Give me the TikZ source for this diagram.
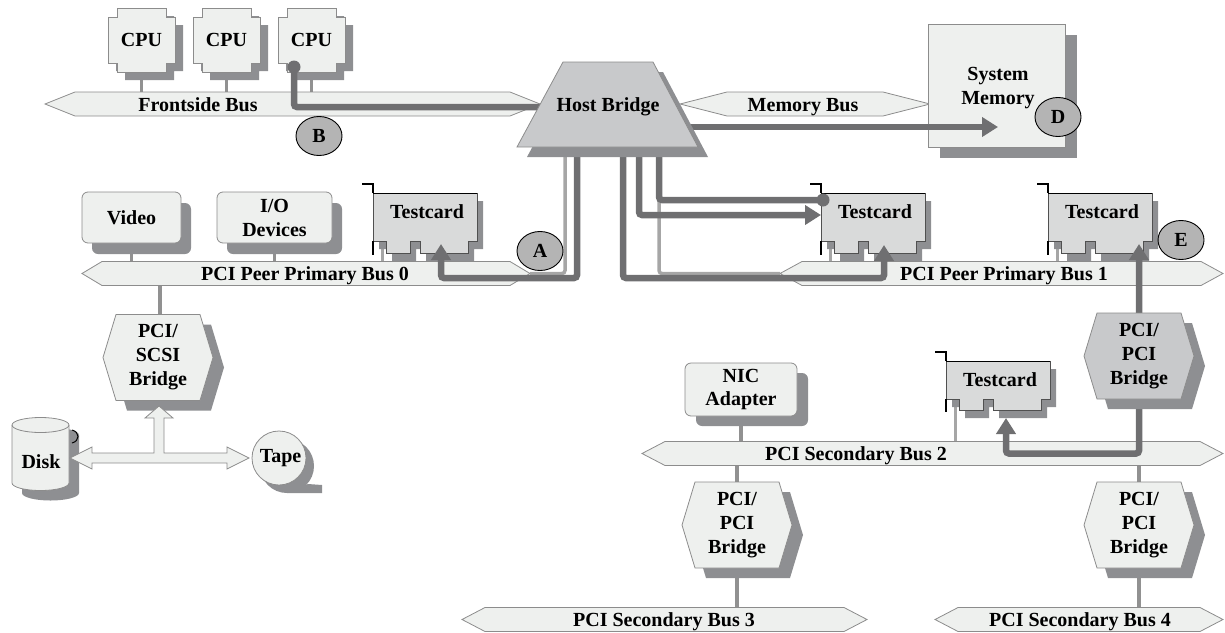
\documentclass[tikz,border=0pt]{standalone}
\usepackage{fontspec}
\setmainfont{Liberation Serif}
\usetikzlibrary{arrows.meta,shapes.geometric,calc}
\pgfdeclarelayer{bg}\pgfdeclarelayer{paths}\pgfdeclarelayer{top}
\pgfsetlayers{bg,main,paths,top}
\definecolor{busfill}{RGB}{238,240,238}
\definecolor{edge}{RGB}{140,140,140}
\definecolor{shd}{RGB}{142,143,146}
\definecolor{hostfill}{RGB}{200,201,203}
\definecolor{cardfill}{RGB}{217,218,218}
\definecolor{cardedge}{RGB}{80,80,80}
\definecolor{thickc}{RGB}{111,111,113}
\definecolor{lightc}{RGB}{166,166,166}
\definecolor{linkc}{RGB}{145,145,145}
\definecolor{labfill}{RGB}{180,180,180}
\tikzset{
 txt/.style={font=\fontsize{20}{24}\selectfont\bfseries, align=center, inner sep=0pt, text=black},
 busstyle/.style={fill=busfill, draw=edge, line width=0.8pt},
 link/.style={draw=linkc, line width=3.5pt},
 pin/.style={draw=lightc, line width=3pt},
 thinpath/.style={draw=lightc, line width=3.5pt, rounded corners=3pt},
 thickpath/.style={draw=thickc, line width=6.5pt, rounded corners=3pt},
 tip/.style={-{Triangle[length=16pt,width=19pt]}},
 tipboth/.style={{Triangle[length=16pt,width=19pt]}-{Triangle[length=16pt,width=19pt]}},
 lab/.style={ellipse, draw=black, line width=0.9pt, fill=labfill, minimum width=46pt, minimum height=39pt, inner sep=0pt, font=\fontsize{20}{24}\selectfont\bfseries},
}
\newcommand\cpushape[3]{\path[#1] (#2+9,#3) -- (#2+58,#3) -- (#2+58,#3+9) -- (#2+67,#3+9) -- (#2+67,#3+55) -- (#2+58,#3+55) -- (#2+58,#3+64) -- (#2+9,#3+64) -- (#2+9,#3+55) -- (#2,#3+55) -- (#2,#3+9) -- (#2+9,#3+9) -- cycle;}
\newcommand\mkcpu[3]{\cpushape{fill=shd}{#2+8}{#3+8}\cpushape{fill=busfill,draw=edge,line width=0.8pt}{#2}{#3}\node[txt] (#1) at (#2+33.5,#3+32) {CPU};}
\newcommand\cardshape[5]{\path[#1] (#2,#3) -- (#2+104,#3) -- (#2+104,#3+#4) -- (#2+95,#3+#4) -- (#2+95,#3+#5) -- (#2+47,#3+#5) -- (#2+47,#3+#4) -- (#2+37,#3+#4) -- (#2+37,#3+#5) -- (#2+13,#3+#5) -- (#2+13,#3+#4) -- (#2,#3+#4) -- cycle;}
\newcommand\mkcard[5]{%
 \cardshape{fill=shd}{#2+6}{#3+8}{#4}{#5}%
 \cardshape{fill=cardfill,draw=cardedge,line width=0.8pt}{#2}{#3}{#4}{#5}%
 \draw[black,line width=1pt] (#2,#3) -- (#2+104,#3);
 \draw[black,line width=2pt] (#2-11,#3-9) -- (#2,#3-9) -- (#2,#3);
 \draw[black,line width=2.5pt] (#2,#3+#4) -- (#2,#3+#5+2);
 \coordinate (#1pin) at (#2+9,#3+#4-4);
 \node[txt] (#1) at (#2+54,#3+18.5) {Testcard};}
\newcommand\mkbus[7]{\draw[busstyle] (#2,#4) -- (#2+#5,#4-12) -- (#3-#5,#4-12) -- (#3,#4) -- (#3-#5,#4+12) -- (#2+#5,#4+12) -- cycle;
 \node[txt,anchor=base] (#1) at (#6,#4+7) {#7};}
\newcommand\mkbridge[5]{%
 \path[fill=shd] (#2-44,#3+10) -- (#2-31,#3-33) -- (#2+53,#3-33) -- (#2+66,#3+10) -- (#2+53,#3+53) -- (#2-31,#3+53) -- cycle;
 \path[fill=#4,draw=edge,line width=0.8pt] (#2-55,#3) -- (#2-42,#3-43) -- (#2+42,#3-43) -- (#2+55,#3) -- (#2+42,#3+43) -- (#2-42,#3+43) -- cycle;
 \node[txt] (#1) at (#2,#3) {#5};}
\begin{document}
\begin{tikzpicture}[x=1pt,y=-1pt]
\useasboundingbox (0,0) rectangle (1225,632);
% buses
\mkbus{fsb}{45}{540}{104}{30}{198}{Frontside Bus}
\mkbus{membus}{680}{930}{104}{47}{803}{Memory Bus}
\mkbus{bus0}{82}{530}{273.5}{20}{305}{PCI Peer Primary Bus 0}
\mkbus{bus1}{780}{1223}{273.5}{22}{1004}{PCI Peer Primary Bus 1}
\mkbus{bus2}{642}{1223}{453.5}{23}{856}{PCI Secondary Bus 2}
\mkbus{bus3}{462}{867}{619.5}{23}{664}{PCI Secondary Bus 3}
\mkbus{bus4}{935}{1223}{619.5}{23}{1080}{PCI Secondary Bus 4}
\coordinate (b0r) at (530,273.5);
\coordinate (b1l) at (780,273.5);
% CPUs
\mkcpu{cpu1}{108}{8}
\mkcpu{cpu2}{193}{8}
\mkcpu{cpu3}{278}{8}
% memory
\fill[shd] (940,35) rectangle (1077,158);
\draw[busstyle] (928,24) rectangle (1065,147);
\node[txt] (mem) at (998,88) {System\\Memory};
% video, io, nic
\fill[shd,rounded corners=6pt] (92,203) rectangle (191,254);
\draw[busstyle,rounded corners=6pt] (82,192) rectangle (181,243);
\node[txt] (video) at (131.5,217.5) {Video};
\fill[shd,rounded corners=6pt] (227,203) rectangle (342,254);
\draw[busstyle,rounded corners=6pt] (217,192) rectangle (332,243);
\node[txt] (io) at (274.5,217.5) {I/O\\Devices};
\fill[shd,rounded corners=6pt] (696,373) rectangle (808,426);
\draw[busstyle,rounded corners=6pt] (685,363) rectangle (797,416);
\node[txt] (nic) at (741,389.5) {NIC\\Adapter};
% cards
\mkcard{card1}{373}{193}{48}{60}
\mkcard{card2}{821}{193}{48}{60}
\mkcard{card3}{1048}{193}{48}{60}
\mkcard{card4}{946}{361}{38}{49}
% bridges
\mkbridge{scsi}{158}{357.5}{busfill}{PCI/\\SCSI\\Bridge}
\mkbridge{br3}{737}{525}{busfill}{PCI/\\PCI\\Bridge}
\mkbridge{br4}{1139}{525}{busfill}{PCI/\\PCI\\Bridge}
% disk
\fill[shd] (22,435) -- (22,493) arc[start angle=180,end angle=0,x radius=28.5,y radius=7.5] -- (79,435) arc[start angle=0,end angle=-180,x radius=28.5,y radius=7.5] -- cycle;
\draw[black,line width=1pt] (72,430) .. controls (80,432) and (80,441) .. (72,443);
\draw[busstyle] (12,425) -- (12,483) arc[start angle=180,end angle=0,x radius=28.5,y radius=7.5] -- (69,425) arc[start angle=0,end angle=-180,x radius=28.5,y radius=7.5] -- cycle;
\draw[edge,line width=0.8pt] (12,425) arc[start angle=180,end angle=0,x radius=28.5,y radius=7.5];
\node[txt] (disk) at (41,462) {Disk};
% tape
\fill[shd] (287,466) circle (27);
\fill[shd] (287,493) -- (322,493) -- (322,485) -- (308,484) -- cycle;
\draw[busstyle] (279,458) circle (27);
\node[txt] (tape) at (280.5,458.5) {Tape};
% T arrow
\draw[busstyle] (70,458) -- (92,447) -- (92,453) -- (154,453) -- (154,418) -- (145,418) -- (159,406) -- (173,418) -- (164,418) -- (164,453) -- (227,453) -- (227,447) -- (249,458) -- (227,469) -- (227,463) -- (92,463) -- (92,469) -- cycle;
% coordinates for paths
\coordinate (bStart) at (294,67);
\coordinate (bEnd) at (548,107);
\coordinate (mS) at (690,127);
\coordinate (mT) at (998,127);
\coordinate (hbL) at (565,150);
\coordinate (hbA) at (577,150);
\coordinate (hbC) at (623,150);
\coordinate (hbD) at (639,150);
\coordinate (hbE) at (659,150);
\coordinate (cA) at (441,244);
\coordinate (cC) at (884,245);
\coordinate (cL) at (821,215);
\coordinate (cDot) at (823,200);
\coordinate (c4in) at (1006,418);
\coordinate (b2mid) at (1139,453.5);
\coordinate (c3in) at (1139,244);
% links (background)
\begin{pgfonlayer}{bg}
\draw[link] (cpu1) -- (cpu1 |- fsb);
\draw[link] (cpu2) -- (cpu2 |- fsb);
\draw[link] (cpu3) -- (cpu3 |- fsb);
\draw[link] (video) -- (video |- bus0);
\draw[link] (io) -- (io |- bus0);
\draw[link] ([xshift=2pt]scsi.center) -- ([xshift=2pt]scsi.center |- bus0);
\draw[link] (nic) -- (nic |- bus2);
\draw[link] (br3) -- (br3 |- bus2);
\draw[link] (br3) -- (br3 |- bus3);
\draw[link] (br4) -- (br4 |- bus2);
\draw[link] (br4) -- (br4 |- bus4);
\draw[pin] (card1pin) -- (card1pin |- bus0);
\draw[pin] (card2pin) -- (card2pin |- bus1);
\draw[pin] (card3pin) -- (card3pin |- bus1);
\draw[pin] (card4pin) -- (card4pin |- bus2);
\end{pgfonlayer}
% paths
\begin{pgfonlayer}{paths}
\draw[thinpath] (hbL) |- (b0r);
\draw[thinpath] (hbE) |- (b1l);
\draw[thickpath] (bStart) |- (bEnd);
\fill[thickc] (bStart) circle (6.5);
\draw[thickpath,tip] (mS) -- (mT);
\draw[thickpath,tip] (hbA) |- ($(cA)+(0,34)$) -- (cA);
\draw[thickpath,tip] (hbC) |- ($(cC)+(0,33)$) -- (cC);
\draw[thickpath,tip] (hbD) |- (cL);
\draw[thickpath] (hbE) |- (cDot);
\fill[thickc] (cDot) circle (6.5);
\draw[thickpath,tipboth] (c4in) |- (b2mid) -- (c3in);
\end{pgfonlayer}
% top
\begin{pgfonlayer}{top}
\fill[shd] (573,72) -- (663,72) -- (708,157) -- (527,157) -- cycle;
\draw[fill=hostfill,draw=edge,line width=0.8pt] (563,62) -- (653,62) -- (698,147) -- (517,147) -- cycle;
\node[txt,anchor=base] (hb) at (608,111) {Host Bridge};
\mkbridge{br2}{1139}{356}{hostfill}{PCI/\\PCI\\Bridge}
\node[lab] (A) at (540,251) {A};
\node[lab] (B) at (319,136) {B};
\node[lab] (D) at (1058,117) {D};
\node[lab] (E) at (1181,240) {E};
\end{pgfonlayer}
\end{tikzpicture}
\end{document}
